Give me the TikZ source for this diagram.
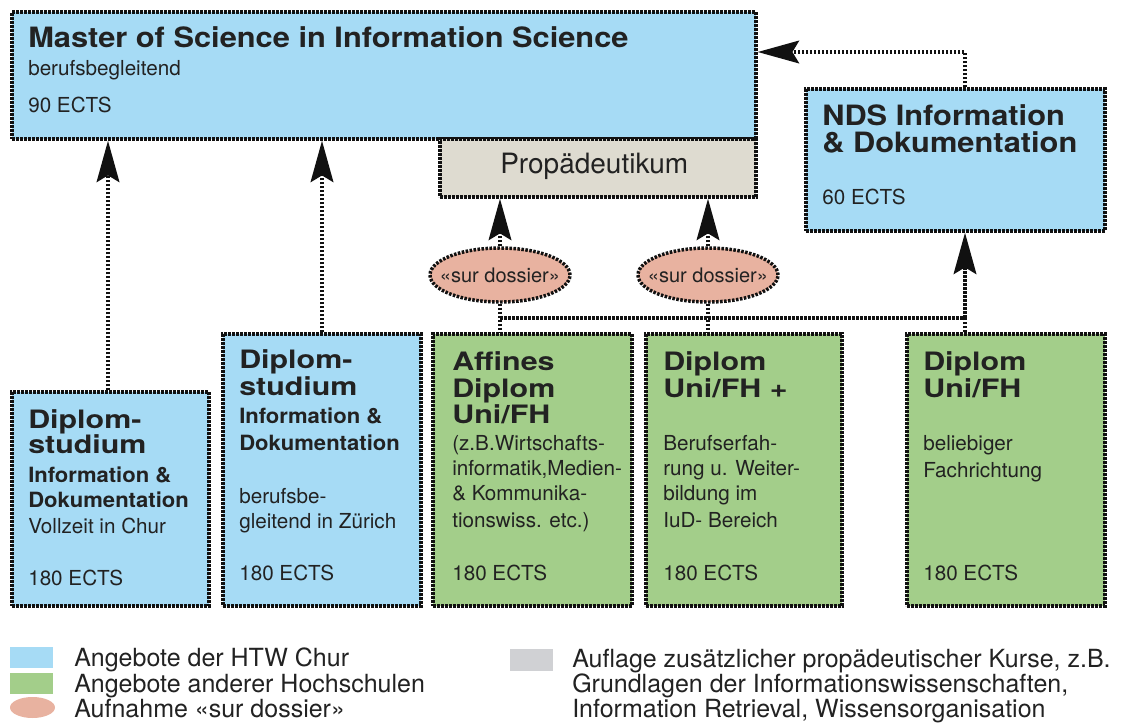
\documentclass[tikz,border=0pt]{standalone}
\usepackage{fontspec}
\setmainfont{TeX Gyre Heros}
\newfontfamily\hwA[FakeStretch=1.1]{TeX Gyre Heros}
\newfontfamily\hwB[FakeStretch=1.2]{TeX Gyre Heros}
\newfontfamily\hwC[FakeStretch=1.05]{TeX Gyre Heros}
\usetikzlibrary{arrows.meta,fit,shapes.geometric}
\definecolor{cblue}{HTML}{A6DBF5}
\definecolor{cgreen}{HTML}{A3CE8A}
\definecolor{cpink}{HTML}{E8B2A0}
\definecolor{cprop}{HTML}{DEDBD0}
\definecolor{cgray}{HTML}{D0D1D4}
\definecolor{cline}{HTML}{111111}
\definecolor{ctext}{HTML}{222222}
\tikzset{
  dotline/.style={draw=cline, line width=2.6pt, dash pattern=on 1.9pt off 1.1pt},
  box/.style={dotline, rectangle, inner sep=0pt},
  conn/.style={dotline},
  arr/.style={dotline, -{Stealth[length=31pt,width=17pt,inset=5pt]}},
  ell/.style={dotline, ellipse, fill=cpink, minimum width=105pt, minimum height=40.5pt, inner sep=0pt, text=ctext, font=\fontsize{15}{18}\selectfont},
  txt/.style={anchor=base west, inner sep=0pt, text=ctext},
  ttl/.style={txt, font=\hwA\bfseries\fontsize{21}{25}\selectfont},
  hd/.style={txt, font=\hwB\bfseries\fontsize{19}{22}\selectfont},
  sb/.style={txt, font=\hwC\bfseries\fontsize{15.75}{19}\selectfont},
  bd/.style={txt, font=\fontsize{15.5}{19}\selectfont},
  pr/.style={txt, font=\fontsize{21}{25}\selectfont},
  lg/.style={txt, font=\fontsize{18.75}{22}\selectfont},
  sw/.style={inner sep=0pt, draw=none},
}
\begin{document}
\begin{tikzpicture}[x=0.75pt,y=-0.75pt]
\useasboundingbox (0,0) rectangle (1122,722);

% boxes
\node[box, fill=cblue,  fit={(12,12)(756,139)}]   (main) {};
\node[box, fill=cprop,  fit={(440,139)(756,197)}] (prop) {};
\node[box, fill=cblue,  fit={(806,89)(1105,231)}] (nds)  {};
\node[box, fill=cblue,  fit={(12,392)(209,606)}]  (b1)   {};
\node[box, fill=cblue,  fit={(223,334)(421,606)}] (b2)   {};
\node[box, fill=cgreen, fit={(433,334)(632,606)}] (b3)   {};
\node[box, fill=cgreen, fit={(646,334)(842,606)}] (b4)   {};
\node[box, fill=cgreen, fit={(907,334)(1105,606)}] (b5)  {};

\node[ell] (e1) at (500,275) {\makebox[0pt]{«sur dossier»}};
\node[ell] (e2) at (708,275) {\makebox[0pt]{«sur dossier»}};

% junction coordinates
\coordinate (j5) at (965,318);
\coordinate (k)  at (965,52);
\coordinate (a1) at (108,0);

% connectors
\draw[arr] (a1 |- b1.north) -- (a1 |- main.south);
\draw[arr] (b2.north) -- (b2.north |- main.south);
\draw[arr] (e1.north) -- (e1.north |- prop.south);
\draw[arr] (e2.north) -- (e2.north |- prop.south);
\draw[conn] (e1.south) -- (e1.south |- b3.north);
\draw[conn] (e2.south) -- (e2.south |- b4.north);
\draw[conn] (e1.south |- j5) -- (j5);
\draw[conn] (j5 |- b5.north) -- (j5);
\draw[arr] (j5) -- (j5 |- nds.south);
\draw[arr] (k |- nds.north) -- (k) -- (k -| main.east);

% texts: main
\node[ttl] (mt1) at (28,47) {Master of Science in Information Science};
\node[bd]  (mt2) at (28,75) {berufsbegleitend};
\node[bd]  (mt3) at (28,112) {90 ECTS};
\node[pr]  (pt)  at (500,173) {Propädeutikum};
\node[ttl] (nt1) at (822,125) {NDS Information};
\node[ttl] (nt2) at (822,152) {\& Dokumentation};
\node[bd]  (nt3) at (822,204) {60 ECTS};

% box 1
\node[hd] (t11) at (28,428) {Diplom-};
\node[hd] (t12) at (28,453) {studium};
\node[sb] (t13) at (28,482) {Information \&};
\node[sb] (t14) at (28,507) {Dokumentation};
\node[bd] (t15) at (28,533) {Vollzeit in Chur};
\node[bd] (t16) at (28,585) {180 ECTS};

% box 2
\node[hd] (t21) at (239,368) {Diplom-};
\node[hd] (t22) at (239,395) {studium};
\node[sb] (t23) at (239,423) {Information \&};
\node[sb] (t24) at (239,450) {Dokumentation};
\node[bd] (t25) at (239,503) {berufsbe-};
\node[bd] (t26) at (239,528) {gleitend in Zürich};
\node[bd] (t27) at (239,580) {180 ECTS};

% box 3
\node[hd] (t31) at (452,370) {Affines};
\node[hd] (t32) at (452,397) {Diplom};
\node[hd] (t33) at (452,423) {Uni/FH};
\node[bd] (t34) at (452,450) {(z.B.Wirtschafts-};
\node[bd] (t35) at (452,475) {informatik,Medien-};
\node[bd] (t36) at (452,500) {\& Kommunika-};
\node[bd] (t37) at (452,527) {tionswiss. etc.)};
\node[bd] (t38) at (452,580) {180 ECTS};

% box 4
\node[hd] (t41) at (663,370) {Diplom};
\node[hd] (t42) at (663,397) {Uni/FH +};
\node[bd] (t43) at (663,450) {Berufserfah-};
\node[bd] (t44) at (663,475) {rung u. Weiter-};
\node[bd] (t45) at (663,500) {bildung im};
\node[bd] (t46) at (663,527) {IuD- Bereich};
\node[bd] (t47) at (663,580) {180 ECTS};

% box 5
\node[hd] (t51) at (923,370) {Diplom};
\node[hd] (t52) at (923,397) {Uni/FH};
\node[bd] (t53) at (923,450) {beliebiger};
\node[bd] (t54) at (923,477) {Fachrichtung};
\node[bd] (t55) at (923,580) {180 ECTS};

% legend
\node[sw, fill=cblue,  fit={(10,647)(53,668)}] (l1) {};
\node[sw, fill=cgreen, fit={(10,673)(53,694)}] (l2) {};
\node[sw, fill=cpink, ellipse, minimum width=33.75pt, minimum height=15.75pt] (l3) at (32.5,707.5) {};
\node[sw, fill=cgray,  fit={(510,649)(553,671)}] (l4) {};
\node[lg] (lt1) at (74,666) {Angebote der HTW Chur};
\node[lg] (lt2) at (74,692) {Angebote anderer Hochschulen};
\node[lg] (lt3) at (74,717) {Aufnahme «sur dossier»};
\node[lg] (lt4) at (572,667) {Auflage zusätzlicher propädeutischer Kurse, z.B.};
\node[lg] (lt5) at (572,692) {Grundlagen der Informationswissenschaften,};
\node[lg] (lt6) at (572,717) {Information Retrieval, Wissensorganisation};
\end{tikzpicture}
\end{document}
